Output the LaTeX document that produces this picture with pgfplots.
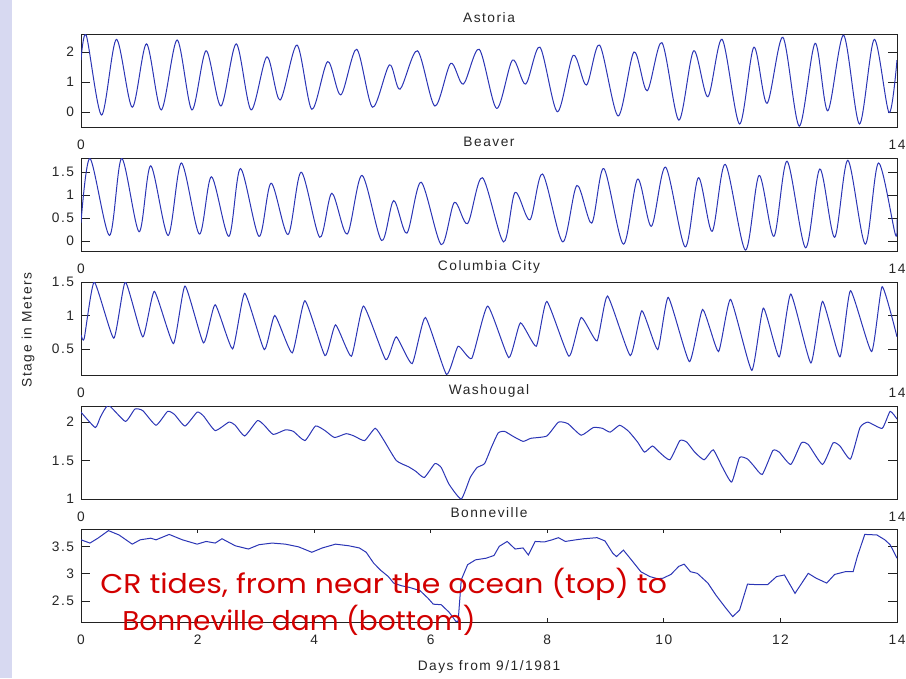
\documentclass[border=0pt]{standalone}
\usepackage{fontspec}
\setmainfont{Liberation Sans}[LetterSpace=11]
\newfontfamily\notefont{Poppins}
\usepackage{pgfplots}
\pgfplotsset{compat=1.18}
\definecolor{tide}{HTML}{2B35B5}
\definecolor{frame}{HTML}{222222}
\definecolor{sky}{HTML}{D7D9F1}
\definecolor{note}{HTML}{D20000}
\pgfplotsset{
  panel/.style={
    scale only axis, width=612pt, height=69.75pt, anchor=north west,
    xmin=0, xmax=14, xtick={0,14},
    axis line style={draw=frame, line width=.7pt},
    tick pos=both, tick align=inside, major tick length=7pt,
    xtick style={/pgfplots/major tick length=3.2pt},
    tick style={draw=frame, line width=.6pt},
    /pgf/number format/assume math mode=true,
    ticklabel style={font=\fontsize{10.3}{12}\selectfont, text=black!85},
    xticklabel style={anchor=base, yshift=-17pt},
    yticklabel style={anchor=east, inner sep=0pt, xshift=-5pt},
    every axis title shift=0pt,
    title style={at={(0.5,1)}, anchor=base, yshift=8.5pt, font=\fontsize{10.3}{12}\selectfont, text=black!85},
  },
  tideline/.style={tide, line width=.75pt, mark=none},
}
\begin{document}
\fontsize{10.3}{12}\selectfont
\begin{tikzpicture}
\path[use as bounding box] (0,0) rectangle (679.5pt,-508.5pt);
\fill[sky] (0,0) rectangle (9pt,-508.5pt);

\begin{axis}[panel, at={(60.75pt,-25.5pt)}, title={Astoria},
  ymin=-0.5, ymax=2.6, ytick={0,1,2}]
\addplot[tideline, smooth, tension=0.5] coordinates {
(0,1.73) (0.091,2.55) (0.353,-0.10) (0.607,2.42) (0.879,0.16) (1.124,2.27) (1.377,0.07) (1.649,2.40)
(1.903,0.07) (2.147,2.04) (2.401,0.20) (2.664,2.27) (2.918,0.07) (3.190,1.84) (3.416,0.40) (3.706,2.23)
(3.960,0.09) (4.232,1.68) (4.458,0.57) (4.730,2.09) (5.002,0.16) (5.292,1.57) (5.473,0.76) (5.772,2.04)
(6.071,0.20) (6.343,1.62) (6.560,0.93) (6.832,2.09) (7.131,0.12) (7.403,1.73) (7.629,0.93) (7.874,2.16)
(8.173,0.01) (8.445,1.89) (8.671,0.90) (8.898,2.23) (9.215,-0.13) (9.487,2.00) (9.713,0.71) (9.967,2.31)
(10.257,-0.27) (10.511,2.04) (10.755,0.51) (11.000,2.42) (11.299,-0.40) (11.544,2.16) (11.770,0.29) (12.042,2.49)
(12.323,-0.47) (12.595,2.29) (12.812,0.04) (13.084,2.56) (13.356,-0.40) (13.610,2.42) (13.864,-0.02) (14,1.73)};
\end{axis}

\begin{axis}[panel, at={(60.75pt,-118.5pt)}, title={Beaver},
  ymin=-0.22, ymax=1.81, ytick={0,0.5,1,1.5}]
\addplot[tideline, smooth, tension=0.5] coordinates {
(0,0.40) (0.154,1.80) (0.489,0.12) (0.698,1.80) (0.997,0.20) (1.196,1.64) (1.495,0.12) (1.722,1.70)
(2.030,0.15) (2.238,1.40) (2.537,0.10) (2.736,1.58) (3.054,0.10) (3.262,1.26) (3.552,0.14) (3.778,1.50)
(4.096,0.08) (4.304,1.04) (4.567,0.15) (4.821,1.43) (5.156,0.01) (5.364,0.88) (5.591,0.17) (5.835,1.28)
(6.180,-0.08) (6.406,0.84) (6.633,0.38) (6.886,1.38) (7.249,-0.02) (7.448,1.06) (7.702,0.46) (7.919,1.46)
(8.264,-0.02) (8.508,1.21) (8.762,0.39) (8.970,1.58) (9.305,-0.07) (9.550,1.35) (9.786,0.32) (10.030,1.61)
(10.366,-0.13) (10.592,1.38) (10.828,0.21) (11.054,1.67) (11.399,-0.20) (11.634,1.43) (11.888,0.10) (12.114,1.74)
(12.432,-0.15) (12.676,1.57) (12.930,0.08) (13.157,1.76) (13.456,-0.07) (13.682,1.70) (13.972,0.14) (14,0.47)};
\end{axis}

\begin{axis}[panel, at={(60.75pt,-211.5pt)}, title={Columbia City},
  ymin=0.11, ymax=1.5, ytick={0.5,1,1.5}]
\addplot[tideline, smooth, tension=0.3] coordinates {
(0,0.71) (0.054,0.65) (0.227,1.50) (0.562,0.66) (0.761,1.50) (1.060,0.68) (1.259,1.36) (1.586,0.58)
(1.785,1.44) (2.102,0.59) (2.302,1.16) (2.601,0.50) (2.809,1.33) (3.144,0.49) (3.325,1.00) (3.624,0.44)
(3.842,1.22) (4.186,0.40) (4.367,0.86) (4.639,0.39) (4.848,1.14) (5.228,0.34) (5.409,0.68) (5.681,0.28)
(5.908,0.97) (6.270,0.12) (6.470,0.54) (6.705,0.36) (6.977,1.14) (7.339,0.37) (7.539,0.89) (7.811,0.54)
(7.992,1.21) (8.372,0.39) (8.581,0.97) (8.853,0.62) (9.034,1.29) (9.424,0.40) (9.623,1.07) (9.895,0.49)
(10.076,1.27) (10.438,0.31) (10.665,1.09) (10.937,0.46) (11.145,1.24) (11.508,0.18) (11.707,1.11) (11.979,0.38)
(12.178,1.32) (12.522,0.29) (12.722,1.21) (13.021,0.38) (13.202,1.37) (13.564,0.46) (13.745,1.43) (14,0.68)};
\end{axis}

\begin{axis}[panel, at={(60.75pt,-304.5pt)}, title={Washougal},
  ymin=1, ymax=2.21, ytick={1,1.5,2}]
\addplot[tideline, smooth, tension=0.3] coordinates {
(0,2.13) (0.245,1.93) (0.335,2.07) (0.471,2.22) (0.761,2.01) (0.924,2.17) (1.060,2.15) (1.287,1.96)
(1.486,2.14) (1.604,2.10) (1.785,1.95) (1.993,2.13) (2.102,2.08) (2.302,1.89) (2.537,2.00) (2.646,1.96)
(2.809,1.82) (3.026,2.02) (3.144,1.96) (3.298,1.84) (3.507,1.90) (3.643,1.88) (3.842,1.76) (4.023,1.95)
(4.186,1.89) (4.349,1.80) (4.549,1.85) (4.685,1.82) (4.866,1.76) (5.047,1.92) (5.183,1.78) (5.410,1.50)
(5.618,1.42) (5.745,1.36) (5.890,1.28) (6.071,1.46) (6.180,1.41) (6.316,1.19) (6.524,1.00) (6.678,1.28)
(6.796,1.41) (6.923,1.46) (7.040,1.67) (7.158,1.86) (7.267,1.88) (7.403,1.82) (7.584,1.75) (7.720,1.79)
(7.992,1.82) (8.191,2.00) (8.354,1.98) (8.581,1.83) (8.789,1.93) (8.943,1.92) (9.079,1.87) (9.242,1.96)
(9.396,1.88) (9.550,1.74) (9.668,1.61) (9.804,1.69) (9.922,1.61) (10.103,1.51) (10.275,1.76) (10.393,1.74)
(10.529,1.61) (10.692,1.51) (10.846,1.64) (11.000,1.42) (11.163,1.22) (11.299,1.54) (11.435,1.52) (11.544,1.43)
(11.689,1.32) (11.870,1.63) (11.979,1.61) (12.178,1.45) (12.359,1.73) (12.477,1.71) (12.722,1.45) (12.903,1.73)
(13.021,1.69) (13.202,1.52) (13.365,1.93) (13.501,2.00) (13.746,1.92) (13.882,2.14) (14,2.04)};
\end{axis}

\begin{axis}[panel, at={(60.75pt,-396.75pt)}, title={Bonneville},
  ymin=2.11, ymax=3.83, ytick={2.5,3,3.5}, xtick={0,2,...,14},
  xlabel={Days from 9/1/1981},
  xlabel style={at={(0.5,0)}, anchor=base, yshift=-36.5pt, font=\fontsize{10.3}{12}\selectfont, text=black!85}]
\addplot[tideline] coordinates {
(0,3.63) (0.154,3.57) (0.290,3.66) (0.471,3.80) (0.652,3.72) (0.879,3.55) (1.015,3.63) (1.196,3.66)
(1.287,3.63) (1.513,3.73) (1.740,3.63) (1.993,3.55) (2.147,3.60) (2.302,3.57) (2.419,3.65) (2.646,3.52)
(2.872,3.46) (3.054,3.54) (3.280,3.57) (3.507,3.55) (3.733,3.50) (3.960,3.40) (4.141,3.48) (4.367,3.55)
(4.594,3.52) (4.775,3.48) (4.893,3.40) (5.020,3.20) (5.138,3.07) (5.273,2.95) (5.364,2.83) (5.500,2.78)
(5.636,2.75) (5.817,2.69) (5.953,2.55) (6.044,2.44) (6.180,2.43) (6.316,2.29) (6.433,2.12) (6.470,2.12)
(6.524,2.89) (6.633,3.17) (6.769,3.26) (6.950,3.29) (7.086,3.34) (7.176,3.51) (7.312,3.60) (7.448,3.46)
(7.584,3.48) (7.675,3.35) (7.792,3.60) (7.947,3.59) (8.083,3.63) (8.191,3.67) (8.309,3.60) (8.490,3.63)
(8.626,3.65) (8.853,3.67) (8.989,3.61) (9.125,3.38) (9.188,3.32) (9.306,3.44) (9.442,3.26) (9.605,3.04)
(9.759,2.95) (9.895,2.91) (9.985,2.92) (10.121,2.99) (10.257,3.14) (10.348,3.18) (10.457,3.04) (10.574,3.01)
(10.755,2.83) (10.891,2.61) (11.054,2.38) (11.181,2.21) (11.299,2.33) (11.435,2.81) (11.616,2.80) (11.779,2.80)
(11.933,2.95) (12.069,2.98) (12.250,2.64) (12.477,3.01) (12.613,2.92) (12.794,2.83) (12.930,2.99) (13.111,3.04)
(13.247,3.04) (13.319,3.32) (13.447,3.73) (13.655,3.72) (13.791,3.63) (13.882,3.54) (14,3.29)};
\end{axis}

\node[rotate=90, text=black!85] at (21pt,-247.5pt) {Stage in Meters};
\node[anchor=base west, text=note, inner sep=0pt] at (75pt,-444.75pt)
  {\resizebox{425pt}{19pt}{\notefont CR tides, from near the ocean (top) to}};
\node[anchor=base west, text=note, inner sep=0pt] at (91.5pt,-472.5pt)
  {\resizebox{265pt}{19pt}{\notefont Bonneville dam (bottom)}};
\end{tikzpicture}
\end{document}
